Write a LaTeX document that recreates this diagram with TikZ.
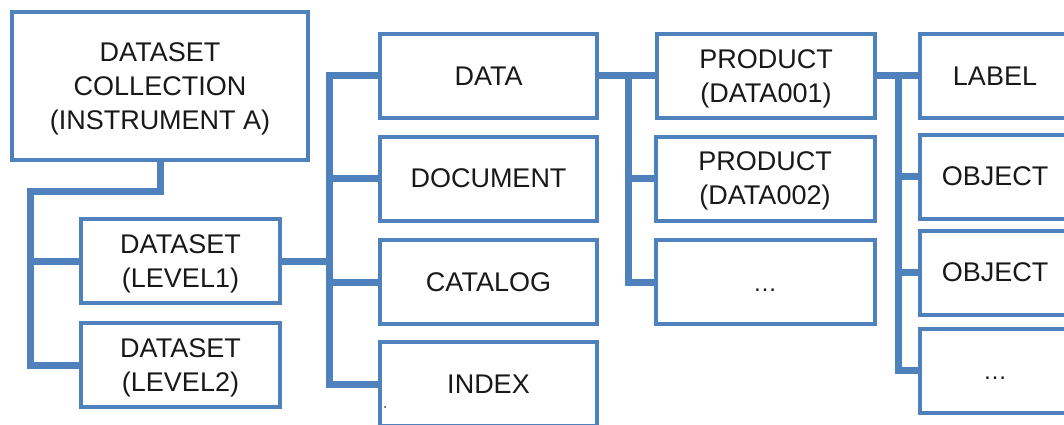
\documentclass[tikz,border=0pt]{standalone}
\usepackage{fontspec}
\setmainfont{Liberation Sans}
\definecolor{boxblue}{HTML}{4F81BD}
\pgfdeclarelayer{background}
\pgfsetlayers{background,main}
\tikzset{
  box/.style={draw=boxblue, line width=4pt, fill=white, align=center,
    inner sep=0pt, text depth=0pt, font=\fontsize{27}{34}\selectfont, text=black!90},
  colbox/.style={box, minimum width=217pt, minimum height=84pt},
  lvbox/.style={box, minimum width=199pt, minimum height=84pt},
  leafbox/.style={box, minimum width=150pt, minimum height=84pt},
  conn/.style={draw=boxblue, line width=7pt, line join=miter}
}
\newcommand{\moredots}{\vphantom{A}{\fontsize{24}{34}\selectfont …}}
\begin{document}
\begin{tikzpicture}[x=1pt, y=-1pt]
  \useasboundingbox (0,0) rectangle (1064,425);
  \clip (0,0) rectangle (1064,425);

  % collection and its datasets
  \node[box, minimum width=296pt, minimum height=148pt] (coll) at (160,86)
    {DATASET\\COLLECTION\\(INSTRUMENT A)};
  \node[lvbox] (lv1) at (180.5,261) {DATASET\\(LEVEL1)};
  \node[lvbox] (lv2) at (180.5,365) {DATASET\\(LEVEL2)};

  % dataset content directories
  \node[colbox] (data) at (488.5,76)  {DATA};
  \node[colbox] (doc)  at (488.5,178.5) {DOCUMENT};
  \node[colbox] (cat)  at (488.5,282) {CATALOG};
  \node[colbox] (idx)  at (488.5,384) {INDEX};

  % products
  \node[colbox, minimum width=218pt] (p1) at (766,76)    {PRODUCT\\(DATA001)};
  \node[colbox, minimum width=219pt] (p2) at (765,178.5) {PRODUCT\\(DATA002)};
  \node[colbox, minimum width=219pt] (p3) at (765,282)   {\moredots};

  % product members
  \node[leafbox] (lab)  at (995,76)    {LABEL};
  \node[leafbox] (obj1) at (995,176.5) {OBJECT};
  \node[leafbox] (obj2) at (995,272.5) {OBJECT};
  \node[leafbox] (more) at (995,370.5) {\moredots};

  \fill[black!80] (385,407) circle (1);

  % vertical buses
  \coordinate (j1) at (30,191);
  \coordinate (j2) at (329,0);
  \coordinate (j3) at (628,0);
  \coordinate (j4) at (898,0);

  \begin{pgfonlayer}{background}
    \draw[conn] (coll.south) |- (j1) |- (lv2.west);
    \draw[conn] (lv1.west) -- (lv1.west -| j1);

    \draw[conn] (lv1.east) -- (lv1.east -| j2);
    \draw[conn] (data.west) -- (data.west -| j2) |- (idx.west);
    \draw[conn] (doc.west) -- (doc.west -| j2);
    \draw[conn] (cat.west) -- (cat.west -| j2);

    \draw[conn] (data.east) -- (p1.west);
    \draw[conn] (data.east -| j3) |- (p3.west);
    \draw[conn] (p2.west) -- (p2.west -| j3);

    \draw[conn] (p1.east) -- (lab.west);
    \draw[conn] (p1.east -| j4) |- (more.west);
    \draw[conn] (obj1.west) -- (obj1.west -| j4);
    \draw[conn] (obj2.west) -- (obj2.west -| j4);
  \end{pgfonlayer}
\end{tikzpicture}
\end{document}
